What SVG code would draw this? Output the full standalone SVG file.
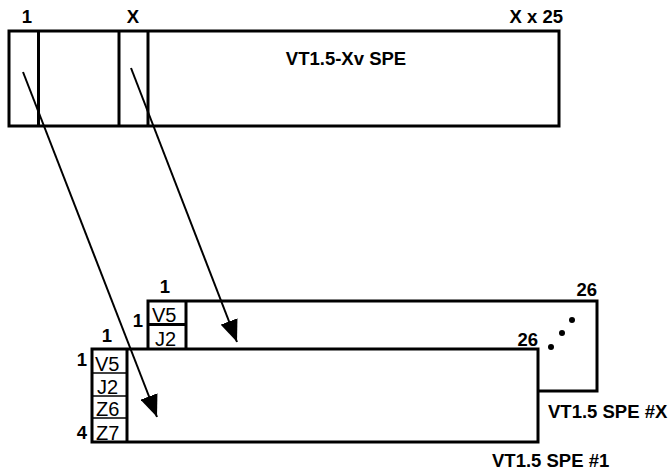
<svg xmlns="http://www.w3.org/2000/svg" width="668" height="471" viewBox="0 0 668 471">
<style>
.box{fill:#fff;stroke:#000;stroke-width:3}
.ln{stroke:#000;stroke-width:3;fill:none}
.thin{stroke:#000;stroke-width:1.5;fill:none}
.b{font-family:"Liberation Sans",Arial,sans-serif;font-weight:bold;font-size:18.5px;fill:#000}
.r{font-family:"Liberation Sans",Arial,sans-serif;font-size:20px;fill:#000}
.arr{stroke:#000;stroke-width:2;fill:none;marker-end:url(#ah)}
</style>
<defs>
<marker id="ah" markerUnits="userSpaceOnUse" viewBox="0 0 22 18" refX="22" refY="9" markerWidth="22" markerHeight="18" orient="auto">
<path d="M0,0 L22,9 L0,18 Z" fill="#000"/>
</marker>
</defs>
<g id="vt15-xv-spe">
<rect class="box" x="9" y="31" width="550" height="95"/>
<line class="ln" x1="38.5" y1="31" x2="38.5" y2="126"/>
<line class="ln" x1="119" y1="31" x2="119" y2="126"/>
<line class="ln" x1="148" y1="31" x2="148" y2="126"/>
<text class="b" x="27" y="23" text-anchor="middle">1</text>
<text class="b" x="133" y="23" text-anchor="middle">X</text>
<text class="b" x="563" y="23" text-anchor="end">X x 25</text>
<text class="b" x="346" y="65" text-anchor="middle">VT1.5-Xv SPE</text>
</g>
<g id="spe-x">
<rect class="box" x="148" y="301" width="449" height="90"/>
<line class="ln" x1="186" y1="301" x2="186" y2="349"/>
<line class="ln" x1="148" y1="324.5" x2="186" y2="324.5"/>
<text class="r" x="152" y="322">V5</text>
<text class="r" x="155" y="346">J2</text>
<text class="b" x="165" y="293" text-anchor="middle">1</text>
<text class="b" x="143" y="327" text-anchor="end">1</text>
<text class="b" x="597" y="296" text-anchor="end">26</text>
<circle cx="572" cy="320" r="3" fill="#000"/>
<circle cx="562" cy="333" r="3" fill="#000"/>
<circle cx="551" cy="347" r="3" fill="#000"/>
<text class="b" x="548" y="418">VT1.5 SPE #X</text>
</g>
<g id="spe-1">
<rect class="box" x="92" y="349" width="446" height="93"/>
<line class="ln" x1="127" y1="349" x2="127" y2="442"/>
<line class="thin" x1="92" y1="373" x2="127" y2="373"/>
<line class="thin" x1="92" y1="396" x2="127" y2="396"/>
<line class="thin" x1="92" y1="418" x2="127" y2="418"/>
<text class="r" x="95" y="371">V5</text>
<text class="r" x="97" y="394">J2</text>
<text class="r" x="96" y="416">Z6</text>
<text class="r" x="96" y="440">Z7</text>
<text class="b" x="107" y="342" text-anchor="middle">1</text>
<text class="b" x="87" y="366" text-anchor="end">1</text>
<text class="b" x="87" y="439" text-anchor="end">4</text>
<text class="b" x="538" y="346" text-anchor="end">26</text>
<text class="b" x="492" y="467">VT1.5 SPE #1</text>
</g>
<g id="connectors">
<line class="arr" x1="23" y1="72" x2="157" y2="417"/>
<line class="arr" x1="131" y1="68" x2="237" y2="342"/>
</g>
</svg>
